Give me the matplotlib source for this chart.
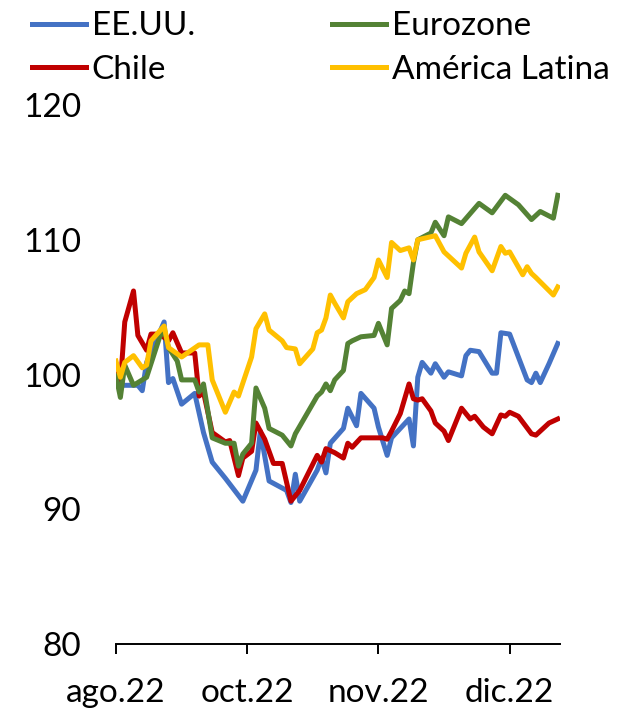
import matplotlib.pyplot as plt

plt.rcParams['font.family'] = ['Lato', 'DejaVu Sans']

# day index (trading days from start) and index level
us_x = [0, 1, 5, 6, 7, 11, 12, 13, 15, 18, 20, 22, 25, 29, 32, 33, 35, 39, 40, 41,
        42, 46, 47, 48, 49, 52, 53, 55, 56, 59, 60, 62, 63, 67, 68, 69, 70, 72, 73,
        75, 76, 79, 80, 81, 83, 86, 87, 88, 90, 92, 94, 95, 96, 97, 99, 101]
us_y = [100.0, 99.2, 99.2, 98.8, 100.9, 103.9, 99.4, 99.7, 97.8, 98.6, 95.7, 93.5,
        92.3, 90.6, 92.9, 95.8, 92.1, 91.4, 90.5, 92.6, 90.6, 92.9, 93.8, 92.7, 94.9,
        96.0, 97.5, 96.2, 98.6, 97.5, 96.1, 94.0, 95.3, 96.7, 94.7, 99.8, 100.9, 100.1,
        100.8, 99.8, 100.2, 99.9, 101.4, 101.8, 101.7, 100.1, 100.1, 103.1, 103.0,
        101.3, 99.6, 99.4, 100.1, 99.4, 100.8, 102.3]

cl_x = [0, 1, 2, 4, 5, 7, 8, 10, 12, 13, 15, 18, 19, 20, 22, 25, 26, 28, 29, 31, 32,
        34, 36, 38, 40, 42, 46, 47, 48, 50, 52, 53, 54, 56, 61, 62, 63, 65, 67, 68,
        69, 70, 72, 73, 75, 76, 79, 81, 82, 84, 86, 88, 89, 90, 92, 95, 96, 99, 101]
cl_y = [100.0, 99.3, 103.9, 106.2, 102.9, 101.8, 103.0, 103.0, 102.5, 103.1, 101.6,
        101.6, 98.4, 98.7, 95.7, 95.0, 95.1, 92.5, 93.8, 94.3, 96.4, 95.2, 93.4, 93.4,
        90.6, 91.4, 94.0, 93.5, 94.5, 94.2, 93.8, 94.9, 94.6, 95.3, 95.3, 95.2, 95.8,
        97.1, 99.3, 98.2, 98.1, 98.2, 97.3, 96.4, 95.8, 95.1, 97.5, 96.7, 96.9, 96.1,
        95.6, 97.0, 96.9, 97.2, 96.9, 95.6, 95.5, 96.4, 96.7]

ez_x = [0, 1, 2, 4, 7, 10, 11, 12, 14, 15, 18, 19, 20, 22, 25, 27, 28, 29, 31, 32,
        34, 35, 38, 40, 41, 46, 47, 48, 49, 50, 52, 53, 54, 56, 59, 60, 62, 63, 65,
        66, 67, 68, 69, 72, 73, 75, 76, 79, 83, 86, 89, 92, 95, 97, 100, 101]
ez_y = [99.9, 98.3, 100.7, 99.2, 99.8, 102.8, 103.4, 102.0, 101.0, 99.6, 99.6, 98.7,
        99.3, 95.3, 94.9, 94.9, 93.2, 94.1, 94.9, 99.0, 97.5, 96.0, 95.5, 94.7, 95.6,
        98.4, 98.7, 99.3, 98.8, 99.6, 100.3, 102.3, 102.5, 102.8, 102.9, 103.8, 102.2,
        104.9, 105.5, 106.2, 106.0, 108.3, 110.0, 110.5, 111.3, 110.3, 111.7, 111.2,
        112.7, 112.0, 113.3, 112.6, 111.5, 112.1, 111.6, 113.3]

la_x = [0, 1, 2, 4, 6, 7, 8, 11, 12, 15, 19, 21, 22, 25, 27, 28, 31, 32, 34, 35, 38,
        39, 41, 42, 45, 46, 47, 48, 49, 50, 52, 53, 54, 55, 57, 59, 60, 62, 63, 65,
        67, 68, 69, 73, 74, 75, 79, 80, 82, 83, 86, 88, 89, 90, 93, 94, 95, 96, 100, 101]
la_y = [101.0, 99.8, 100.9, 101.4, 100.5, 100.7, 102.5, 103.6, 102.0, 101.3, 102.2,
        102.2, 99.6, 97.2, 98.7, 98.4, 101.3, 103.4, 104.5, 103.3, 102.5, 102.0, 101.9,
        100.8, 101.9, 103.1, 103.3, 104.2, 105.9, 105.3, 104.2, 105.4, 105.7, 106.0,
        106.3, 107.2, 108.5, 107.2, 109.8, 109.2, 109.4, 108.5, 110.0, 110.3, 109.7,
        109.1, 107.9, 109.0, 110.2, 109.1, 107.7, 109.5, 109.0, 109.1, 107.4, 108.0,
        107.5, 107.2, 105.9, 106.5]

tick_pos = [0, 30, 60, 90]
tick_labels = ["ago.22", "oct.22", "nov.22", "dic.22"]

fig = plt.figure(figsize=(6.36, 7.11), dpi=100)
ax = fig.add_axes([0.1824, 0.0942, 0.698, 0.7581])

lw = 3.6
l1, = ax.plot(us_x, us_y, color="#4472C4", lw=lw, label="EE.UU.")
l2, = ax.plot(cl_x, cl_y, color="#C00000", lw=lw, label="Chile")
l3, = ax.plot(ez_x, ez_y, color="#548235", lw=lw, label="Eurozone")
l4, = ax.plot(la_x, la_y, color="#FFC000", lw=lw, label="América Latina")

ax.set_xlim(0, 101.5)
ax.set_ylim(80, 120)
ax.set_yticks([80, 90, 100, 110, 120])
ax.set_xticks(tick_pos)
ax.set_xticklabels(tick_labels)

for s in ["top", "right", "left"]:
    ax.spines[s].set_visible(False)
ax.spines["bottom"].set_linewidth(1.4)
ax.tick_params(axis="y", length=0, pad=25, labelsize=24)
ax.tick_params(axis="x", length=7.5, width=1.4, pad=17, labelsize=24)

fig.legend(handles=[l1, l2, l3, l4], ncol=2, loc="upper left",
           bbox_to_anchor=(0.050, 0.984), frameon=False, fontsize=24,
           handlelength=1.62, handletextpad=0.18, columnspacing=4.1,
           labelspacing=0.4, borderpad=0, borderaxespad=0)

fig.savefig("out.png", dpi=100)
